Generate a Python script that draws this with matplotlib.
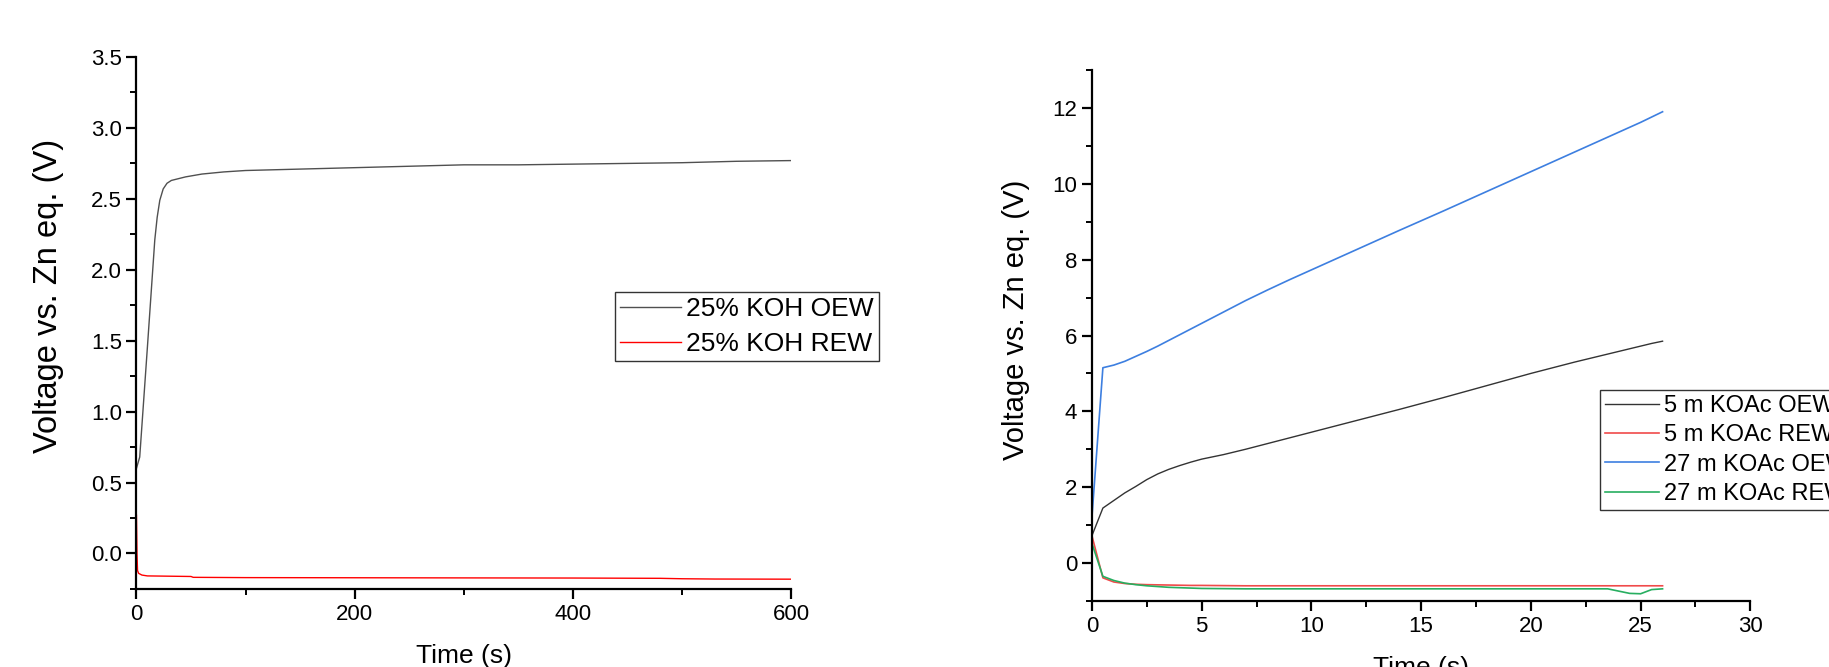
import matplotlib
matplotlib.use('Agg')
import matplotlib.pyplot as plt
from matplotlib.ticker import MultipleLocator, FormatStrFormatter

plt.rcParams['font.family'] = ['Liberation Sans', 'DejaVu Sans']

# left panel: 25% KOH
koh_t_oew = [0, 3, 10, 16.8, 19, 21.4, 24.5, 28, 32, 45, 60, 80, 100, 150, 200, 250, 300, 350, 400, 450, 500, 550, 600]
koh_v_oew = [0.60, 0.68, 1.45, 2.21, 2.37, 2.49, 2.57, 2.61, 2.63, 2.655, 2.675, 2.69, 2.70, 2.71, 2.72, 2.73, 2.74, 2.74, 2.745, 2.75, 2.755, 2.765, 2.77]
koh_t_rew = [0, 0.5, 1, 2, 5, 10, 50, 52, 100, 200, 300, 400, 480, 500, 530, 600]
koh_v_rew = [0.27, 0.0, -0.12, -0.14, -0.152, -0.158, -0.162, -0.168, -0.170, -0.171, -0.172, -0.173, -0.175, -0.178, -0.180, -0.181]

# right panel: KOAc
koac_t = [0, 0.5, 1, 1.5, 2, 2.5, 3, 3.5, 4, 4.5, 5, 6, 7, 8, 9, 10, 12, 14, 16, 18, 20, 22, 23.5, 24.5, 25, 25.5, 26]
koac5_oew = [0.72, 1.45, 1.65, 1.85, 2.02, 2.20, 2.35, 2.47, 2.57, 2.66, 2.74, 2.86, 3.00, 3.15, 3.30, 3.45, 3.75, 4.05, 4.36, 4.68, 5.00, 5.30, 5.51, 5.65, 5.72, 5.79, 5.85]
koac5_rew = [0.72, -0.39, -0.50, -0.54, -0.56, -0.57, -0.575, -0.58, -0.585, -0.59, -0.59, -0.595, -0.60, -0.60, -0.60, -0.60, -0.60, -0.60, -0.60, -0.60, -0.60, -0.60, -0.60, -0.60, -0.60, -0.60, -0.60]
koac27_oew = [1.20, 5.15, 5.22, 5.32, 5.45, 5.58, 5.72, 5.87, 6.02, 6.17, 6.32, 6.62, 6.92, 7.20, 7.47, 7.73, 8.25, 8.77, 9.28, 9.80, 10.32, 10.84, 11.23, 11.49, 11.62, 11.76, 11.90]
koac27_rew = [0.52, -0.35, -0.46, -0.53, -0.57, -0.60, -0.62, -0.64, -0.65, -0.66, -0.67, -0.675, -0.68, -0.68, -0.68, -0.68, -0.68, -0.68, -0.68, -0.68, -0.68, -0.68, -0.68, -0.80, -0.81, -0.70, -0.68]

fig = plt.figure(figsize=(18.29, 6.67), dpi=100)
ax1 = fig.add_axes([0.0746, 0.117, 0.358, 0.7975])
ax2 = fig.add_axes([0.597, 0.099, 0.360, 0.796])

for ax in (ax1, ax2):
    ax.spines['top'].set_visible(False)
    ax.spines['right'].set_visible(False)
    ax.spines['left'].set_linewidth(1.6)
    ax.spines['bottom'].set_linewidth(1.6)
    ax.tick_params(which='major', direction='out', length=7, width=1.6, labelsize=16)
    ax.tick_params(which='minor', direction='out', length=4, width=1.4)
    ax.set_xlabel('Time (s)', fontsize=19, labelpad=14)

ax1.set_ylabel('Voltage vs. Zn eq. (V)', fontsize=23.5, labelpad=19)
ax1.yaxis.label.set_y(0.55)
ax2.set_ylabel('Voltage vs. Zn eq. (V)', fontsize=21, labelpad=16)
ax2.yaxis.label.set_y(0.53)

ax1.plot(koh_t_oew, koh_v_oew, color='#505050', lw=1.0, label='25% KOH OEW')
ax1.plot(koh_t_rew, koh_v_rew, color='#ff0000', lw=1.0, label='25% KOH REW')
ax1.set_xlim(0, 600)
ax1.set_ylim(-0.25, 3.5)
ax1.xaxis.set_major_locator(MultipleLocator(200))
ax1.xaxis.set_minor_locator(MultipleLocator(100))
ax1.yaxis.set_major_locator(MultipleLocator(0.5))
ax1.yaxis.set_minor_locator(MultipleLocator(0.25))
ax1.yaxis.set_major_formatter(FormatStrFormatter('%.1f'))
leg1 = ax1.legend(loc='upper left', bbox_to_anchor=(0.731, 0.558), fontsize=19, frameon=True,
                  fancybox=False, edgecolor='black', handlelength=2.3, handletextpad=0.2,
                  borderpad=0.2, labelspacing=0.4, borderaxespad=0)
leg1.get_frame().set_linewidth(1.0)

ax2.plot(koac_t, koac5_oew, color='#333333', lw=1.0, label='5 m KOAc OEW')
ax2.plot(koac_t, koac5_rew, color='#f04a4a', lw=1.2, label='5 m KOAc REW')
ax2.plot(koac_t, koac27_oew, color='#3d7fe0', lw=1.2, label='27 m KOAc OEW')
ax2.plot(koac_t, koac27_rew, color='#27ae60', lw=1.2, label='27 m KOAc REW')
ax2.set_xlim(0, 30)
ax2.set_ylim(-1, 13)
ax2.xaxis.set_major_locator(MultipleLocator(5))
ax2.xaxis.set_minor_locator(MultipleLocator(2.5))
ax2.yaxis.set_major_locator(MultipleLocator(2))
ax2.yaxis.set_minor_locator(MultipleLocator(1))
leg2 = ax2.legend(loc='upper left', bbox_to_anchor=(0.772, 0.397), fontsize=17, frameon=True,
                  fancybox=False, edgecolor='black', handlelength=2.3, handletextpad=0.2,
                  borderpad=0.2, labelspacing=0.31, borderaxespad=0)
leg2.get_frame().set_linewidth(1.0)

fig.savefig('out.png', dpi=100)
